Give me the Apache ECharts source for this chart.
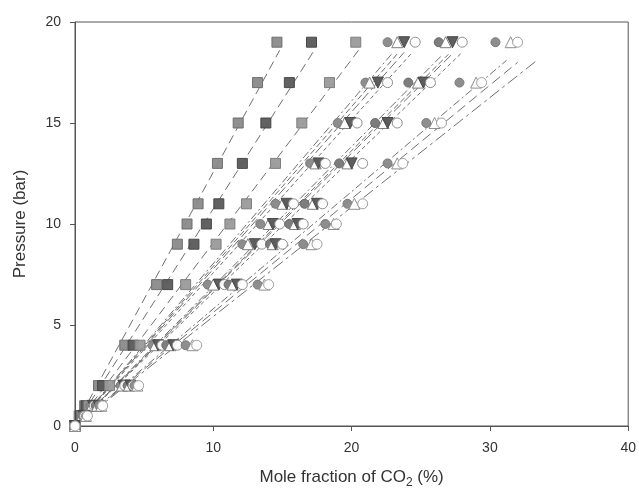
<!DOCTYPE html>
<html><head><meta charset="utf-8">
<script src="https://cdn.jsdelivr.net/npm/echarts@6/dist/echarts.min.js"></script>
<style>html,body{margin:0;padding:0;background:#fff}#c{width:639px;height:494px}</style>
</head><body><div id="c"></div>
<script>
const pressures = [0, 0.5, 1, 2, 4, 7, 9, 10, 11, 13, 15, 17, 19];
const xTicks = [0, 10, 20, 30, 40];
const yTicks = [0, 5, 10, 15, 20];

const sq1 = [0, 0.3, 0.7, 1.7, 3.6, 5.9, 7.4, 8.1, 8.9, 10.3, 11.8, 13.2, 14.6];
const sq2 = [0, 0.4, 0.8, 2.0, 4.2, 6.7, 8.6, 9.5, 10.4, 12.1, 13.8, 15.5, 17.1];
const sq3 = [0, 0.5, 1.0, 2.5, 4.7, 8.0, 10.2, 11.2, 12.4, 14.5, 16.4, 18.4, 20.3];
const c1fc = [0, 0.5, 1.1, 3.3, 5.6, 9.6, 12.1, 13.4, 14.5, 17.0, 19.0, 21.0, 22.6];
const c1tri = [0, 0.5, 1.2, 3.4, 5.8, 10.0, 12.5, 14.0, 15.0, 17.4, 19.5, 21.3, 23.3];
const c1inv = [0, 0.6, 1.3, 3.5, 6.0, 10.4, 13.0, 14.3, 15.3, 17.6, 19.9, 21.9, 23.8];
const c1oc = [0, 0.6, 1.4, 3.6, 6.3, 10.8, 13.5, 14.8, 15.8, 18.1, 20.4, 22.6, 24.6];
const c2fc = [0, 0.6, 1.5, 3.8, 6.6, 11.1, 14.1, 15.5, 16.6, 19.1, 21.7, 24.1, 26.3];
const c2tri = [0, 0.7, 1.6, 3.9, 6.9, 11.4, 14.3, 15.9, 17.2, 19.7, 22.3, 24.8, 26.8];
const c2inv = [0, 0.7, 1.7, 4.0, 7.1, 11.7, 14.5, 16.1, 17.5, 20.0, 22.6, 25.2, 27.3];
const c2oc = [0, 0.7, 1.8, 4.2, 7.4, 12.1, 15.0, 16.5, 17.9, 20.8, 23.3, 25.7, 28.0];
const c3fc = [0, 0.8, 1.8, 4.3, 8.0, 13.2, 16.5, 18.1, 19.7, 22.6, 25.4, 27.8, 30.4];
const c3tri = [0, 0.8, 1.9, 4.5, 8.5, 13.7, 17.1, 18.7, 20.2, 23.3, 26.0, 29.0, 31.5];
const c3oc = [0, 0.9, 2.0, 4.6, 8.8, 14.0, 17.5, 18.9, 20.8, 23.7, 26.5, 29.4, 32.0];

// fitted dashed lines: [x_end, p_end] from origin
const fitEnds = {
  sq1: [14.8, 18.6], sq2: [17.3, 18.6], sq3: [20.5, 18.6],
  c1fc: [23.0, 18.5], c1tri: [23.4, 18.5], c1inv: [23.8, 18.5], c1oc: [24.4, 18.5],
  c2fc: [26.6, 18.4], c2tri: [27.0, 18.4], c2inv: [27.4, 18.5], c2oc: [28.0, 18.5],
  c3fc: [31.2, 18.1], c3tri: [32.0, 18.0], c3oc: [33.4, 18.1]
};

const styles = {
  sq1: {symbol: 'rect', size: 10, color: '#8a8a8a', border: '#6a6a6a', dash: [9, 5]},
  sq2: {symbol: 'rect', size: 10, color: '#5a5a5a', border: '#444', dash: [9, 5]},
  sq3: {symbol: 'rect', size: 10, color: '#9a9a9a', border: '#7a7a7a', dash: [9, 5]},
  c1fc: {symbol: 'circle', size: 9, color: '#888', border: '#777', dash: [8, 3, 2, 3]},
  c1tri: {symbol: 'triangle', size: 11, color: '#fff', border: '#777', dash: [6, 3]},
  c1inv: {symbol: 'triangle', rotate: 180, size: 11, color: '#555', border: '#444', dash: [10, 4]},
  c1oc: {symbol: 'circle', size: 10, color: '#fff', border: '#888', dash: [4, 3]},
  c2fc: {symbol: 'circle', size: 9, color: '#777', border: '#666', dash: [8, 3, 2, 3]},
  c2tri: {symbol: 'triangle', size: 11, color: '#fff', border: '#777', dash: [6, 3]},
  c2inv: {symbol: 'triangle', rotate: 180, size: 11, color: '#555', border: '#444', dash: [10, 4]},
  c2oc: {symbol: 'circle', size: 10, color: '#fff', border: '#888', dash: [4, 3]},
  c3fc: {symbol: 'circle', size: 9, color: '#888', border: '#777', dash: [8, 3, 2, 3]},
  c3tri: {symbol: 'triangle', size: 11, color: '#fff', border: '#888', dash: [10, 5]},
  c3oc: {symbol: 'circle', size: 10, color: '#fff', border: '#999', dash: [12, 4, 3, 4]}
};
const seriesData = {sq1, sq2, sq3, c1fc, c1tri, c1inv, c1oc, c2fc, c2tri, c2inv, c2oc, c3fc, c3tri, c3oc};

const series = [];
Object.keys(seriesData).forEach(k => {
  const st = styles[k];
  series.push({
    type: 'line', name: k + '_fit', data: [[0, 0], fitEnds[k]], showSymbol: false, silent: true,
    lineStyle: {color: '#6f6f6f', width: 1, type: st.dash}, z: 1
  });
});
Object.keys(seriesData).forEach(k => {
  const st = styles[k];
  series.push({
    type: 'scatter', name: k, symbol: st.symbol, symbolSize: st.size, symbolRotate: st.rotate || 0,
    data: seriesData[k].map((x, i) => [x, pressures[i]]),
    itemStyle: {color: st.color, borderColor: st.border, borderWidth: 1, opacity: 0.95}, z: 3
  });
});

const chart = echarts.init(document.getElementById('c'), null, {renderer: 'canvas'});
const axisCommon = {
  axisLine: {show: true, onZero: false, lineStyle: {color: '#555', width: 1}},
  axisTick: {show: true, inside: false, length: 5, lineStyle: {color: '#555'}},
  splitLine: {show: false},
  axisLabel: {color: '#333', fontFamily: 'Liberation Sans', fontSize: 14}
};
chart.setOption({
  animation: false,
  backgroundColor: '#fff',
  grid: {left: 75, right: 10, top: 22, bottom: 68, show: true, borderColor: '#555', borderWidth: 1},
  xAxis: Object.assign({}, axisCommon, {
    type: 'value', min: xTicks[0], max: xTicks[xTicks.length - 1], interval: 10,
    axisLabel: Object.assign({}, axisCommon.axisLabel, {margin: 15}),
    name: '{a|Mole fraction of CO}{b|2}{a| (%)}', nameLocation: 'middle', nameGap: 39,
    nameTextStyle: {rich: {
      a: {fontFamily: 'Liberation Sans', fontSize: 17, color: '#333'},
      b: {fontFamily: 'Liberation Sans', fontSize: 12, color: '#333', padding: [12, 0, 0, 0]}
    }}
  }),
  yAxis: Object.assign({}, axisCommon, {
    type: 'value', min: yTicks[0], max: yTicks[yTicks.length - 1], interval: 5,
    axisLabel: Object.assign({}, axisCommon.axisLabel, {margin: 14}),
    name: 'Pressure (bar)', nameLocation: 'middle', nameGap: 46, nameRotate: 90,
    nameTextStyle: {fontFamily: 'Liberation Sans', fontSize: 17, color: '#333'}
  }),
  series: series
});
</script></body></html>
